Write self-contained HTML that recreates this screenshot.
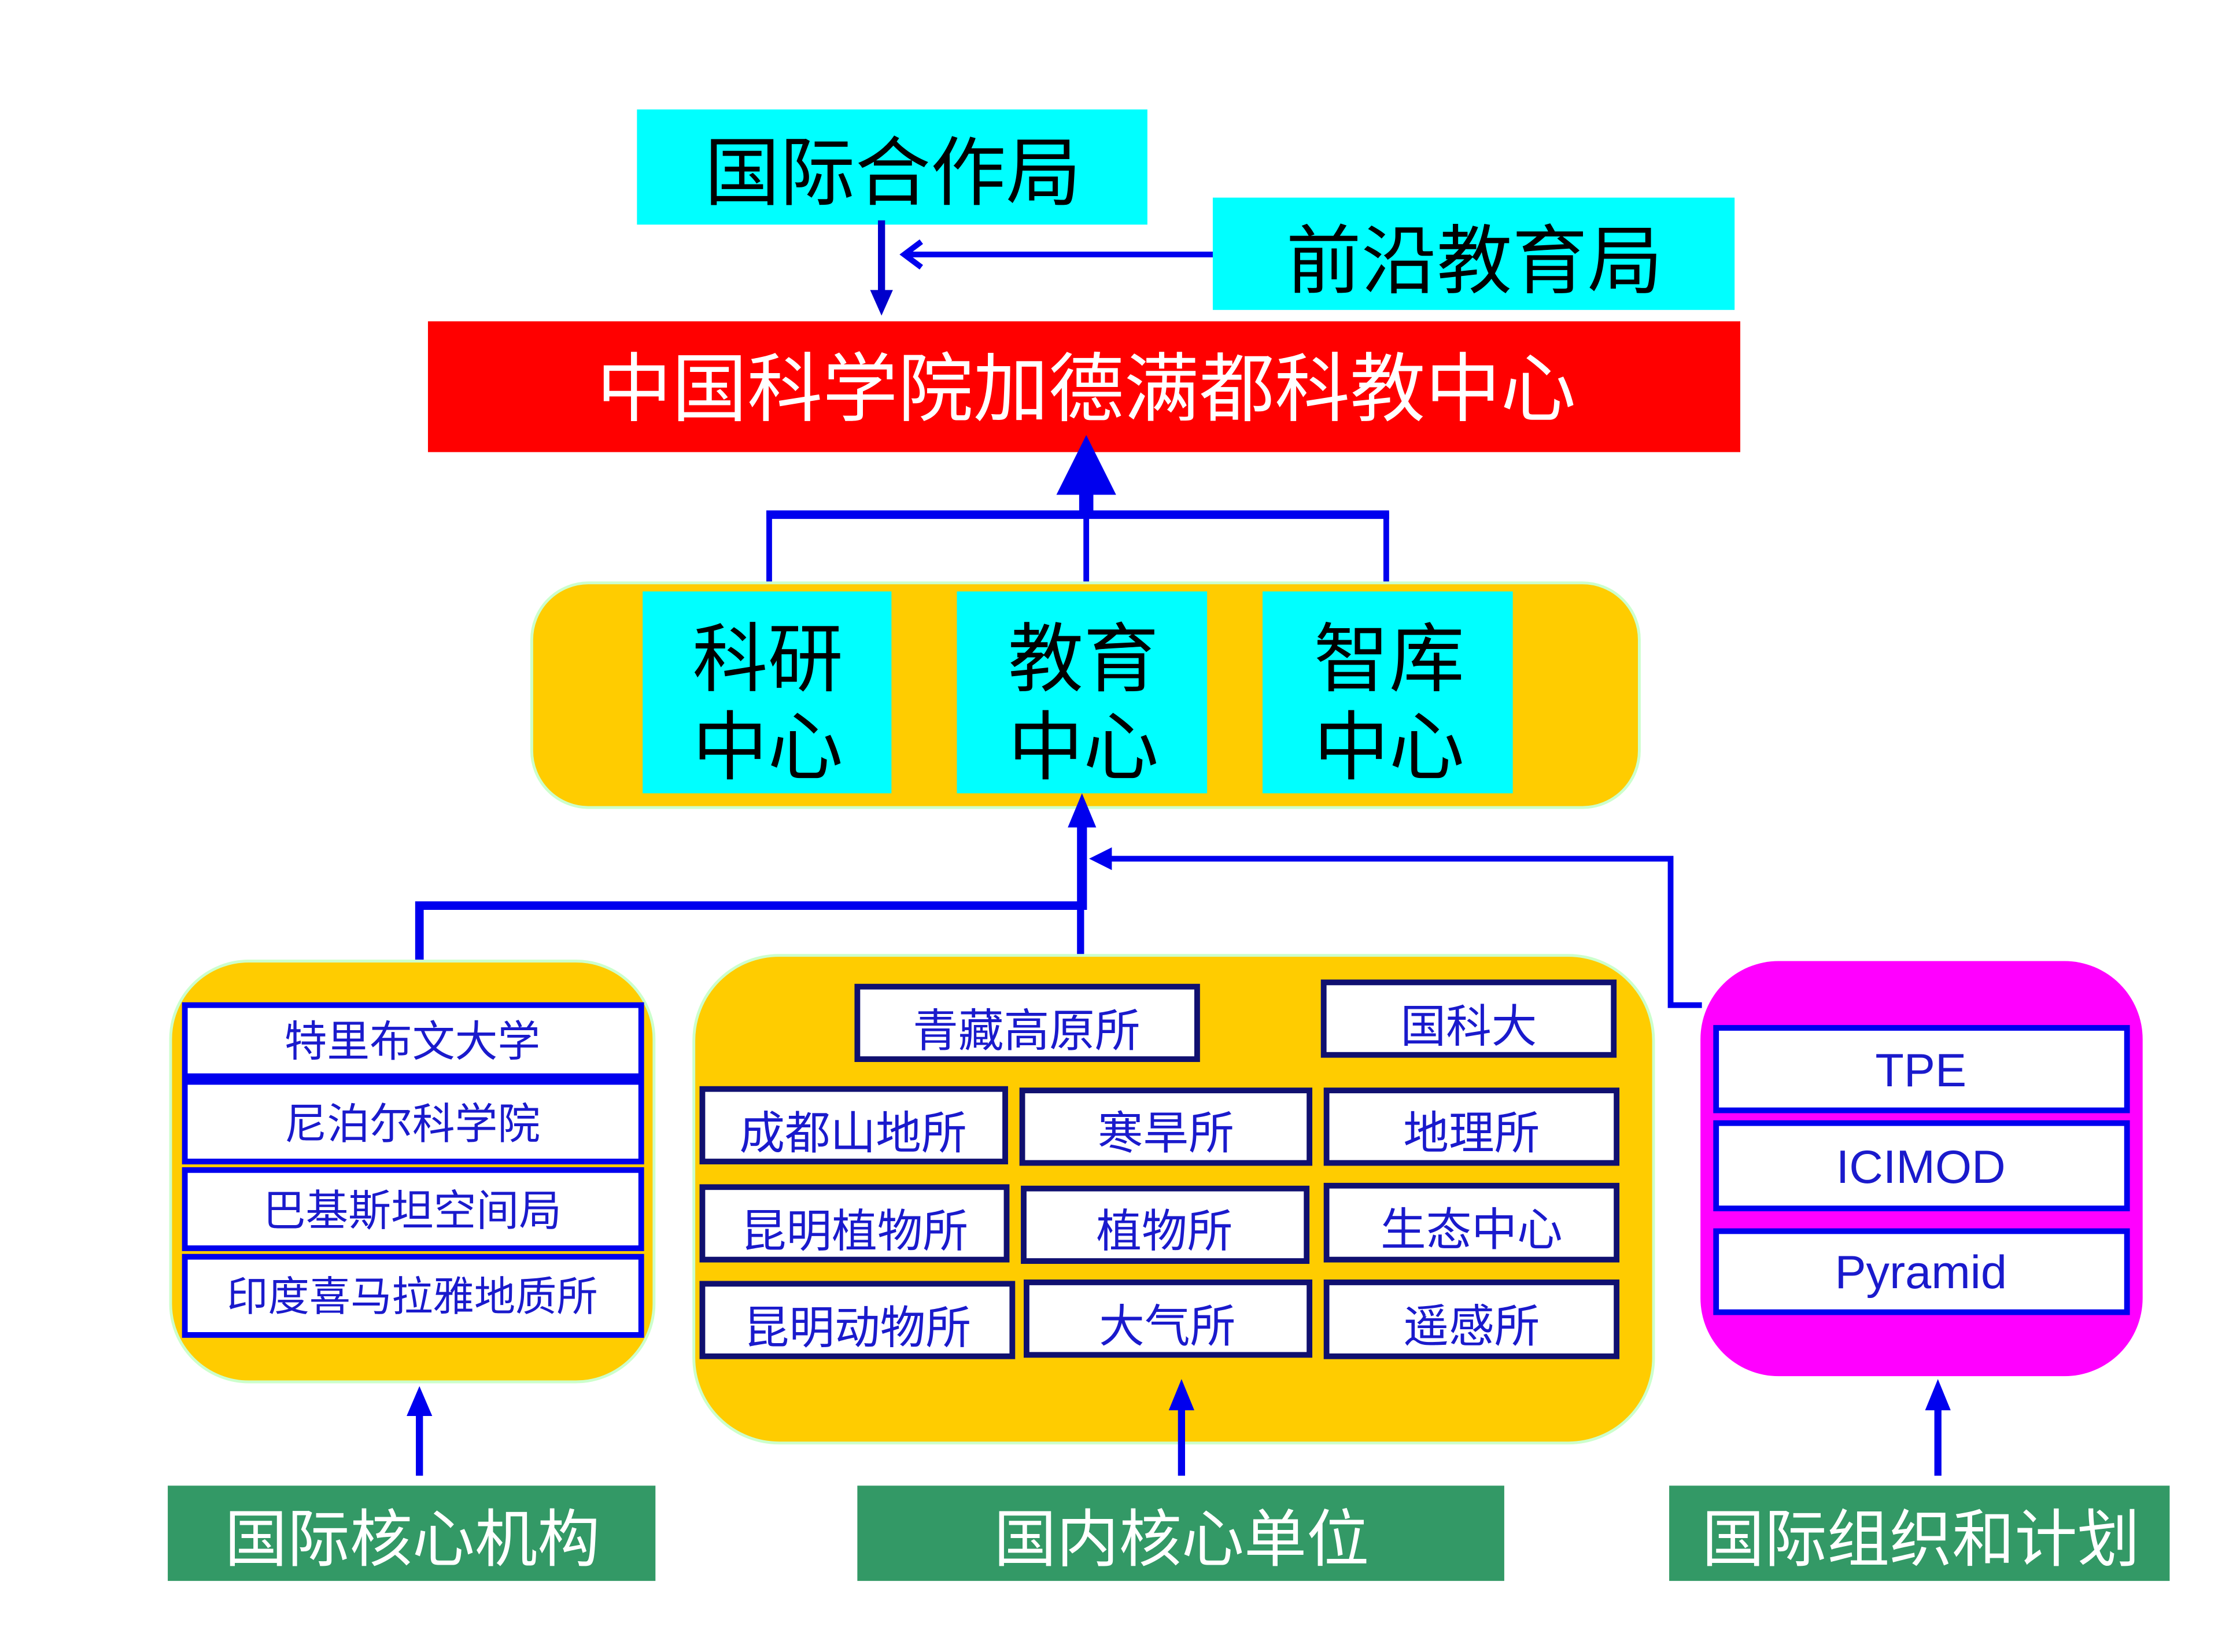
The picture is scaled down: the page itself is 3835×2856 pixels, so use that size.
<!DOCTYPE html>
<html><head><meta charset="utf-8"><style>
html,body{margin:0;padding:0;background:#fff;}
svg{display:block;}
text{font-family:"Liberation Sans","Noto Sans CJK SC",sans-serif;}
</style></head><body>
<svg width="3835" height="2856" viewBox="0 0 1560 1162" preserveAspectRatio="none" xmlns="http://www.w3.org/2000/svg">
<!-- top boxes -->
<rect x="448" y="77" width="359" height="81" fill="#00ffff"/>
<text x="628" y="140" font-size="53" text-anchor="middle" fill="#000">国际合作局</text>
<rect x="853" y="139" width="367" height="79" fill="#00ffff"/>
<text x="1037" y="202" font-size="53" text-anchor="middle" fill="#000">前沿教育局</text>
<line x1="620" y1="155" x2="620" y2="208" stroke="#0000cc" stroke-width="5"/>
<path d="M612,204L628,204L620,222z" fill="#0000cc"/>
<line x1="853" y1="179" x2="638" y2="179" stroke="#0000ee" stroke-width="4"/>
<path d="M648,170L636,179L648,188" fill="none" stroke="#0000ee" stroke-width="4"/>
<rect x="301" y="226" width="923" height="92" fill="#ff0000"/>
<text x="764" y="292" font-size="53" text-anchor="middle" fill="#fff">中国科学院加德满都科教中心</text>
<!-- big arrow -->
<path d="M764,306L785,348L743,348z" fill="#0000ee"/>
<rect x="759" y="346" width="10" height="18" fill="#0000ee"/>
<line x1="539" y1="362" x2="977" y2="362" stroke="#0000ee" stroke-width="6"/>
<line x1="541" y1="360" x2="541" y2="410" stroke="#0000ee" stroke-width="4"/>
<line x1="764" y1="360" x2="764" y2="410" stroke="#0000ee" stroke-width="4"/>
<line x1="975" y1="360" x2="975" y2="410" stroke="#0000ee" stroke-width="4"/>
<!-- centers -->
<rect x="374" y="410" width="779" height="158" rx="40" fill="#ffcc00" stroke="#ccffcc" stroke-width="2"/>
<rect x="452" y="416" width="175" height="142" fill="#00ffff"/>
<rect x="673" y="416" width="176" height="142" fill="#00ffff"/>
<rect x="888" y="416" width="176" height="142" fill="#00ffff"/>
<g font-size="53" text-anchor="middle" fill="#000">
<text x="540" y="482">科研</text><text x="540" y="544">中心</text>
<text x="762" y="482">教育</text><text x="762" y="544">中心</text>
<text x="977" y="482">智库</text><text x="977" y="544">中心</text>
</g>
<!-- middle connectors -->
<path d="M761,558L771,582L751,582z" fill="#0000ee"/>
<line x1="761" y1="578" x2="761" y2="640" stroke="#0000ee" stroke-width="7"/>
<polyline points="295,675 295,637 763,637" fill="none" stroke="#0000ee" stroke-width="6"/>
<line x1="760" y1="637" x2="760" y2="672" stroke="#0000ee" stroke-width="5"/>
<polyline points="1197,707 1175,707 1175,604 775,604" fill="none" stroke="#0000ee" stroke-width="4"/>
<path d="M766,604L782,596L782,612z" fill="#0000ee"/>
<!-- left box -->
<rect x="120" y="676" width="340" height="296" rx="55" fill="#ffcc00" stroke="#ccffcc" stroke-width="2"/>
<g fill="#fff" stroke="#0000ee" stroke-width="4">
<rect x="130" y="707" width="321" height="50"/>
<rect x="130" y="761" width="321" height="56"/>
<rect x="130" y="823" width="321" height="55"/>
<rect x="130" y="884" width="321" height="55"/>
</g>
<g font-size="30" text-anchor="middle" fill="#1a1acc">
<text x="290" y="743">特里布文大学</text>
<text x="290" y="801">尼泊尔科学院</text>
<text x="290" y="862">巴基斯坦空间局</text>
<text x="290" y="922" font-size="29">印度喜马拉雅地质所</text>
</g>
<!-- middle box -->
<rect x="488" y="672" width="675" height="343" rx="60" fill="#ffcc00" stroke="#ccffcc" stroke-width="2"/>
<g fill="#fff" stroke="#101070" stroke-width="4">
<rect x="603" y="694" width="239" height="51"/>
<rect x="931" y="691" width="204" height="51"/>
<rect x="494" y="766" width="213" height="51"/>
<rect x="719" y="767" width="202" height="51"/>
<rect x="933" y="767" width="204" height="51"/>
<rect x="494" y="835" width="214" height="51"/>
<rect x="720" y="836" width="199" height="51"/>
<rect x="933" y="834" width="204" height="52"/>
<rect x="494" y="903" width="218" height="51"/>
<rect x="722" y="902" width="199" height="51"/>
<rect x="933" y="902" width="204" height="52"/>
</g>
<g font-size="32" text-anchor="middle" fill="#1a1acc">
<text x="722" y="736">青藏高原所</text>
<text x="1033" y="733">国科大</text>
<text x="600" y="808">成都山地所</text>
<text x="820" y="808">寒旱所</text>
<text x="1035" y="808">地理所</text>
<text x="601" y="877">昆明植物所</text>
<text x="819" y="877">植物所</text>
<text x="1035" y="876">生态中心</text>
<text x="603" y="945">昆明动物所</text>
<text x="821" y="944">大气所</text>
<text x="1035" y="944">遥感所</text>
</g>
<!-- magenta -->
<rect x="1196" y="676" width="311" height="292" rx="55" fill="#ff00ff"/>
<g fill="#fff" stroke="#0000ee" stroke-width="4">
<rect x="1207" y="723" width="289" height="58"/>
<rect x="1207" y="790" width="289" height="60"/>
<rect x="1207" y="866" width="289" height="57"/>
</g>
<g font-size="33" text-anchor="middle" fill="#1a1acc">
<text x="1351" y="764">TPE</text>
<text x="1351" y="832">ICIMOD</text>
<text x="1351" y="906">Pyramid</text>
</g>
<!-- bottom arrows -->
<g stroke="#0000ee" stroke-width="5">
<line x1="295" y1="990" x2="295" y2="1038"/>
<line x1="831" y1="988" x2="831" y2="1038"/>
<line x1="1363" y1="988" x2="1363" y2="1038"/>
</g>
<g fill="#0000ee">
<path d="M295,975L304,996L286,996z"/>
<path d="M831,970L840,992L822,992z"/>
<path d="M1363,970L1372,992L1354,992z"/>
</g>
<!-- green -->
<rect x="118" y="1045" width="343" height="67" fill="#339966"/>
<rect x="603" y="1045" width="455" height="67" fill="#339966"/>
<rect x="1174" y="1045" width="352" height="67" fill="#339966"/>
<g font-size="44" text-anchor="middle" fill="#fff">
<text x="290" y="1098">国际核心机构</text>
<text x="831" y="1098">国内核心单位</text>
<text x="1351" y="1098">国际组织和计划</text>
</g>
</svg>
</body></html>
